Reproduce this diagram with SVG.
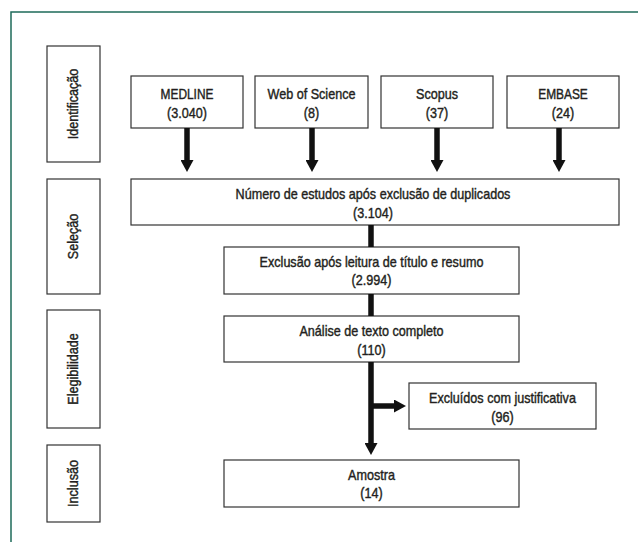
<svg xmlns="http://www.w3.org/2000/svg" width="638" height="542" viewBox="0 0 638 542">
<style>
.frame{fill:none;stroke:#1e6b5a;stroke-width:1.5}
.box{fill:#fff;stroke:#333;stroke-width:1.2}
.t{font-family:"Liberation Sans",Arial,sans-serif;font-size:14px;fill:#231f20;stroke:#231f20;stroke-width:0.4;text-anchor:middle}
.c{stroke:#111;stroke-width:5.5;fill:none}
</style>
<defs>
<marker id="ah" markerUnits="userSpaceOnUse" markerWidth="12" markerHeight="13" refX="0" refY="6.5" orient="auto" viewBox="0 0 12 13">
<path d="M0,0 L12,6.5 L0,13 z" fill="#111"/>
</marker>
</defs>
<rect width="638" height="542" fill="#fff"/>
<rect class="frame" x="11" y="12" width="700" height="600"/>

<g id="lbl-identificacao">
<rect class="box" x="47" y="46" width="53" height="116"/>
<text class="t" transform="translate(78,104) rotate(-90) scale(0.9,1)">Identificação</text>
</g>
<g id="lbl-selecao">
<rect class="box" x="47" y="179" width="53" height="115"/>
<text class="t" transform="translate(78,236.5) rotate(-90) scale(0.9,1)">Seleção</text>
</g>
<g id="lbl-elegibilidade">
<rect class="box" x="47" y="310" width="53" height="118"/>
<text class="t" transform="translate(78,369) rotate(-90) scale(0.9,1)">Elegibilidade</text>
</g>
<g id="lbl-inclusao">
<rect class="box" x="47" y="445" width="53" height="77"/>
<text class="t" transform="translate(78,483.5) rotate(-90) scale(0.9,1)">Inclusão</text>
</g>

<g id="medline">
<rect class="box" x="131" y="76" width="112" height="52"/>
<text class="t" transform="translate(187,99) scale(0.85,1)">MEDLINE</text>
<text class="t" transform="translate(187,118) scale(0.9,1)">(3.040)</text>
</g>
<g id="wos">
<rect class="box" x="255" y="76" width="113" height="52"/>
<text class="t" transform="translate(311.5,99) scale(0.9,1)">Web of Science</text>
<text class="t" transform="translate(311.5,118) scale(0.9,1)">(8)</text>
</g>
<g id="scopus">
<rect class="box" x="381" y="76" width="112" height="52"/>
<text class="t" transform="translate(437,99) scale(0.9,1)">Scopus</text>
<text class="t" transform="translate(437,118) scale(0.9,1)">(37)</text>
</g>
<g id="embase">
<rect class="box" x="507" y="76" width="112" height="52"/>
<text class="t" transform="translate(563,99) scale(0.85,1)">EMBASE</text>
<text class="t" transform="translate(563,118) scale(0.9,1)">(24)</text>
</g>

<g id="duplicados">
<rect class="box" x="131" y="179" width="488" height="46"/>
<text class="t" transform="translate(373,199) scale(0.9,1)">Número de estudos após exclusão de duplicados</text>
<text class="t" transform="translate(373,218) scale(0.9,1)">(3.104)</text>
</g>
<g id="exclusao">
<rect class="box" x="224" y="247" width="295" height="47"/>
<text class="t" transform="translate(371.5,267) scale(0.9,1)">Exclusão após leitura de título e resumo</text>
<text class="t" transform="translate(371.5,285) scale(0.9,1)">(2.994)</text>
</g>
<g id="analise">
<rect class="box" x="224" y="316" width="295" height="46"/>
<text class="t" transform="translate(371.5,336) scale(0.9,1)">Análise de texto completo</text>
<text class="t" transform="translate(371.5,355) scale(0.9,1)">(110)</text>
</g>
<g id="excluidos">
<rect class="box" x="409" y="383" width="187" height="46"/>
<text class="t" transform="translate(502.5,403) scale(0.9,1)">Excluídos com justificativa</text>
<text class="t" transform="translate(502.5,422) scale(0.9,1)">(96)</text>
</g>
<g id="amostra">
<rect class="box" x="224" y="460" width="295" height="47"/>
<text class="t" transform="translate(371.5,480) scale(0.9,1)">Amostra</text>
<text class="t" transform="translate(371.5,498) scale(0.9,1)">(14)</text>
</g>

<g id="connectors">
<line class="c" x1="187" y1="128" x2="187" y2="160" marker-end="url(#ah)"/>
<line class="c" x1="312" y1="128" x2="312" y2="160" marker-end="url(#ah)"/>
<line class="c" x1="437" y1="128" x2="437" y2="160" marker-end="url(#ah)"/>
<line class="c" x1="559" y1="128" x2="559" y2="160" marker-end="url(#ah)"/>
<line class="c" x1="371" y1="225" x2="371" y2="247"/>
<line class="c" x1="371" y1="294" x2="371" y2="316"/>
<line class="c" x1="371" y1="362" x2="371" y2="443" marker-end="url(#ah)"/>
<line class="c" x1="371" y1="406" x2="394" y2="406" marker-end="url(#ah)"/>
</g>
</svg>
